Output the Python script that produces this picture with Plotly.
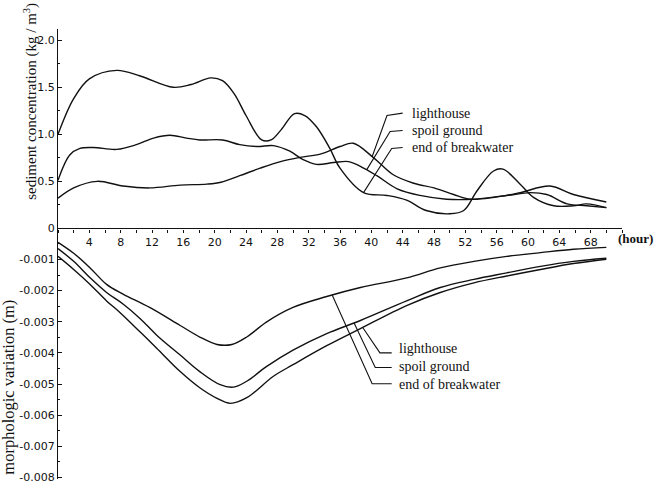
import numpy as np
import plotly.graph_objects as go

# ---- sediment concentration (kg/m^3) vs time (hour) ----
hours_brk_c = [0, 2, 4, 7.5, 10.5, 14.7, 17, 19.5, 21, 22.5, 24, 26, 27.2, 28.5, 30.2, 31.5, 33,
               34.7, 36, 39, 42, 44.5, 47, 50, 51.8, 53.5, 55.6, 56.8, 59, 60.7, 63.3, 65.8, 67.5, 70]
conc_brk = [1.0, 1.38, 1.59, 1.68, 1.62, 1.50, 1.53, 1.60, 1.57, 1.43, 1.20, 0.94, 0.94, 1.05, 1.22, 1.20, 1.08,
            0.85, 0.64, 0.38, 0.35, 0.30, 0.19, 0.155, 0.19, 0.40, 0.61, 0.63, 0.47, 0.33, 0.24, 0.24, 0.26, 0.22]

hours_spoil_c = [0, 1.5, 2.8, 4.5, 7.5, 10, 12.2, 14.3, 16.4, 18.1, 21, 23.2, 25.4, 27.5, 29.6, 31.3, 33,
                 35.2, 37.1, 38.6, 40.7, 43.3, 46.2, 49.6, 53, 57.3, 60.3, 62.4, 65, 67.5, 70]
conc_spoil = [0.51, 0.78, 0.85, 0.86, 0.84, 0.89, 0.96, 0.99, 0.96, 0.94, 0.94, 0.89, 0.87, 0.88, 0.82, 0.73, 0.68,
              0.70, 0.71, 0.66, 0.56, 0.42, 0.35, 0.31, 0.31, 0.35, 0.38, 0.36, 0.26, 0.24, 0.22]

hours_light_c = [0, 2, 5, 8.3, 11.7, 15.6, 19, 20.8, 23.2, 25.8, 28.4, 30.9, 33.5, 36, 37.7, 40.3, 42.8,
                 45.4, 48, 50.5, 52.6, 55.7, 59, 62.8, 65.8, 70]
conc_light = [0.32, 0.43, 0.50, 0.45, 0.43, 0.46, 0.47, 0.49, 0.56, 0.64, 0.71, 0.755, 0.79, 0.87, 0.905, 0.75, 0.57,
              0.48, 0.43, 0.36, 0.31, 0.33, 0.38, 0.45, 0.36, 0.28]

# ---- morphologic variation (m) vs time (hour) ----
hours_brk_m = [0, 2, 4.1, 6.2, 8.3, 11.7, 15.6, 18.1, 20.3, 22.2, 24.1, 26.6, 30, 34.3, 38.6, 44.5,
               48.8, 53.1, 57.3, 61.6, 65.8, 70]
morph_brk = [-0.00045, -0.0008, -0.00127, -0.0018, -0.00211, -0.00254, -0.00312, -0.00349, -0.00373, -0.00373,
             -0.00349, -0.00301, -0.00254, -0.00219, -0.0019, -0.00159, -0.00127, -0.00106, -0.0009, -0.00078,
             -0.00067, -0.00061]

hours_spoil_m = [0, 2, 4.1, 6.2, 8.3, 10.5, 12.6, 15.6, 18.1, 20.7, 22.4, 24.1, 26.6, 30, 34.3, 38.6, 44.5,
                 48.8, 53.1, 57.3, 61.6, 65.8, 70]
morph_spoil = [-0.00065, -0.00106, -0.00159, -0.00206, -0.00243, -0.0029, -0.00343, -0.00407, -0.0046, -0.00502,
               -0.0051, -0.00491, -0.00444, -0.00391, -0.00338, -0.00296, -0.00233, -0.0019, -0.00164, -0.00143,
               -0.00122, -0.00106, -0.00096]

hours_light_m = [0, 2, 4.1, 6.2, 7.9, 10.5, 12.6, 15.6, 18.1, 20.3, 22, 24.1, 27.5, 30, 34.3, 38.6, 44.5,
                 48.8, 53.1, 57.3, 61.6, 65.8, 70]
morph_light = [-0.0009, -0.00132, -0.0018, -0.00233, -0.0027, -0.00333, -0.00385, -0.0046, -0.00512, -0.00546,
               -0.00562, -0.00544, -0.00475, -0.00438, -0.00377, -0.00322, -0.00248, -0.00206, -0.00175, -0.00153,
               -0.00132, -0.00113, -0.00099]

station_names = ["lighthouse", "spoil ground", "end of breakwater"]

x_ticks = list(range(4, 72, 4))
conc_ticks = [0, 0.5, 1.0, 1.5, 2.0]
conc_tick_text = ["0", "0.5", "1.0", "1.5", "2.0"]
morph_ticks = [-0.001, -0.002, -0.003, -0.004, -0.005, -0.006, -0.007, -0.008]
morph_tick_text = ["-0.001", "-0.002", "-0.003", "-0.004", "-0.005", "-0.006", "-0.007", "-0.008"]

INK = "#111111"
LINE = dict(color=INK, width=1.4, shape="spline", smoothing=1.0)
TICK_FONT = dict(family="DejaVu Sans", size=11, color=INK)
SERIF = "Liberation Serif"

fig = go.Figure()

top_series = [(hours_light_c, conc_light), (hours_spoil_c, conc_spoil), (hours_brk_c, conc_brk)]
bot_series = [(hours_light_m, morph_light), (hours_spoil_m, morph_spoil), (hours_brk_m, morph_brk)]

for name, (hx, hy) in zip(station_names, top_series):
    fig.add_trace(go.Scatter(x=hx, y=hy, mode="lines", line=LINE, name=name,
                             xaxis="x", yaxis="y", showlegend=False, hoverinfo="skip"))
for name, (hx, hy) in zip(station_names, bot_series):
    fig.add_trace(go.Scatter(x=hx, y=hy, mode="lines", line=LINE, name=name,
                             xaxis="x2", yaxis="y2", showlegend=False, hoverinfo="skip"))

# Leader lines: label position -> elbow -> point on the curve at a given hour
top_labels = [  # (label hour, label value, elbow hour, elbow value, hour on curve)
    (44.9, 1.225, 42.0, 1.20, 40.1),
    (44.9, 1.040, 42.4, 1.03, 39.4),
    (44.9, 0.860, 42.6, 0.85, 39.0),
]
bot_labels = [
    (43.3, -0.00385, 41.1, -0.00400, 38.9),
    (43.3, -0.00444, 40.5, -0.00447, 37.8),
    (43.3, -0.00500, 40.1, -0.00499, 35.0),
]

shapes = []
annotations = []
for name, (hx, hy), (lx, ly, ex, ey, ch) in zip(station_names, top_series, top_labels):
    cy = float(np.interp(ch, hx, hy))
    shapes.append(dict(type="path", xref="x", yref="y",
                       path=f"M {lx - 0.9},{ly} L {ex},{ey} L {ch},{cy}",
                       line=dict(color=INK, width=1.1)))
    annotations.append(dict(x=lx, y=ly, xref="x", yref="y", text=name, showarrow=False,
                            xanchor="left", yanchor="middle",
                            font=dict(family=SERIF, size=14, color=INK)))
for name, (hx, hy), (lx, ly, ex, ey, ch) in zip(station_names, bot_series, bot_labels):
    cy = float(np.interp(ch, hx, hy))
    shapes.append(dict(type="path", xref="x2", yref="y2",
                       path=f"M {lx - 0.7},{ey} L {ex},{ey} L {ch},{cy}",
                       line=dict(color=INK, width=1.1)))
    annotations.append(dict(x=lx, y=ly, xref="x2", yref="y2", text=name, showarrow=False,
                            xanchor="left", yanchor="middle",
                            font=dict(family=SERIF, size=14, color=INK)))

annotations += [
    dict(x=0.99, y=0, xref="paper", yref="y", yshift=-10, text="<b>(hour)</b>", showarrow=False,
         xanchor="left", yanchor="middle", font=dict(family=SERIF, size=13, color=INK)),
    dict(x=-0.05, y=0.84, xref="paper", yref="paper", textangle=-90,
         text="sediment concentration (kg / m<sup>3</sup>)", showarrow=False,
         xanchor="center", yanchor="middle", font=dict(family=SERIF, size=15, color=INK)),
    dict(x=-0.087, y=0.205, xref="paper", yref="paper", textangle=-90,
         text="morphologic variation (m)", showarrow=False,
         xanchor="center", yanchor="middle", font=dict(family=SERIF, size=16.5, color=INK)),
]

split = 0.557
fig.update_layout(
    width=654, height=488,
    margin=dict(l=58, r=32, t=29, b=2),
    paper_bgcolor="white", plot_bgcolor="white",
    xaxis=dict(domain=[0, 1], range=[0, 72], anchor="y", showgrid=False, zeroline=False,
               showline=True, linecolor=INK, linewidth=1.3,
               tickvals=x_ticks, ticks="outside", ticklen=3, tickcolor=INK, tickwidth=1,
               tickfont=TICK_FONT,
               minor=dict(dtick=2, tick0=0, ticks="outside", ticklen=3, tickcolor=INK, showgrid=False)),
    yaxis=dict(domain=[split, 1], range=[0, 2.12], anchor="x", showgrid=False, zeroline=False,
               showline=True, linecolor=INK, linewidth=1.3,
               tickvals=conc_ticks, ticktext=conc_tick_text, ticks="inside", ticklen=4,
               tickcolor=INK, tickfont=TICK_FONT,
               minor=dict(dtick=0.25, tick0=0, ticks="inside", ticklen=2, tickcolor=INK, showgrid=False)),
    xaxis2=dict(domain=[0, 1], matches="x", anchor="y2", visible=False),
    yaxis2=dict(domain=[0, split], range=[-0.00805, 0], anchor="x2", showgrid=False, zeroline=False,
                showline=True, linecolor=INK, linewidth=1.3,
                tickvals=morph_ticks, ticktext=morph_tick_text, ticks="inside", ticklen=4,
                tickcolor=INK, tickfont=TICK_FONT,
                minor=dict(dtick=0.0005, tick0=0, ticks="inside", ticklen=2, tickcolor=INK, showgrid=False)),
    shapes=shapes,
    annotations=annotations,
)

fig.write_html("out.html")
